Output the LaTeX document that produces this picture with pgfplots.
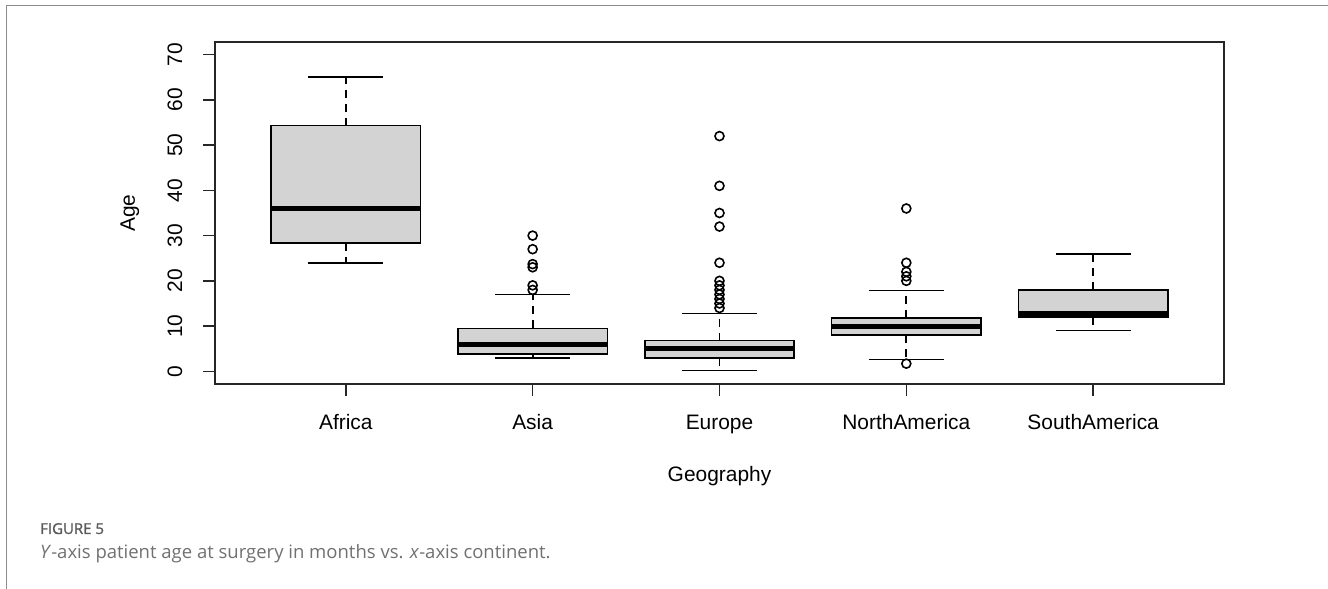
\documentclass[border=0pt]{standalone}
\usepackage{pgfplots}
\pgfplotsset{compat=1.18}
\usepgfplotslibrary{statistics}
\usepackage{fontspec}
\setmainfont{Liberation Sans}
\newfontfamily\capfont{Open Sans}
\newfontfamily\capfontb[FakeBold=1.3]{Open Sans}
\definecolor{boxgray}{HTML}{D3D3D3}
\definecolor{framegray}{HTML}{8C8C8C}
\definecolor{figgray}{HTML}{5A5A5A}
\definecolor{capgray}{HTML}{707070}
\begin{document}
\begin{tikzpicture}
\useasboundingbox (0,0) rectangle (1328bp,589bp);
\draw[framegray, line width=1.5bp] (6.5bp,0) -- (6.5bp,583.7bp) -- (1328bp,583.7bp);
\node[anchor=base west, inner sep=0pt, text=figgray] at (40bp,55bp) {\capfontb\fontsize{15bp}{18bp}\selectfont FIGURE 5};
\node[anchor=base west, inner sep=0pt, text=capgray] at (40bp,31bp) {\capfont\fontsize{18.5bp}{21bp}\selectfont \textit{Y}-axis patient age at surgery in months vs. \textit{x}-axis continent.};
\begin{axis}[
  at={(215bp,205bp)}, anchor=south west,
  width=1009bp, height=342bp, scale only axis,
  xmin=0.3, xmax=5.7, ymin=-2.8, ymax=72.8,
  xtick={1,2,3,4,5},
  xticklabels={Africa,Asia,Europe,NorthAmerica,SouthAmerica},
  ytick={0,10,20,30,40,50,60,70},
  tick align=outside, major tick length=12bp,
  xtick pos=bottom, ytick pos=left,
  axis line style={line width=1.6bp, black!85},
  every tick/.style={black!85, line width=1.6bp},
  /pgf/number format/assume math mode=true,
  tick label style={font=\fontsize{21}{21}\selectfont, inner sep=0pt},
  yticklabel style={rotate=90, anchor=base},
  xticklabel style={anchor=base},
  yticklabel shift=21bp,
  xticklabel shift=33bp,
  xlabel={Geography}, ylabel={Age},
  label style={font=\fontsize{21}{21}\selectfont, inner sep=0pt},
  xlabel style={at={(axis description cs:0.5,-0.2865)}, anchor=base},
  ylabel style={at={(axis description cs:-0.0793,0.5)}, anchor=base, rotate=0},
  boxplot/draw direction=y,
  boxplot/box extend=0.8,
  boxplot/whisker extend=0.4,
  boxplot/every median/.style={line width=5bp},
  boxplot/draw/lower whisker/.code={%
    \draw[dash pattern=on 8bp off 6bp, line width=1.8bp]
      (boxplot cs:\pgfplotsboxplotvalue{lower quartile}) --
      (boxplot cs:\pgfplotsboxplotvalue{lower whisker});
    \draw[line width=1.6bp]
      (boxplot whisker cs:\pgfplotsboxplotvalue{lower whisker},0) --
      (boxplot whisker cs:\pgfplotsboxplotvalue{lower whisker},1);
  },
  boxplot/draw/upper whisker/.code={%
    \draw[dash pattern=on 8bp off 6bp, line width=1.8bp]
      (boxplot cs:\pgfplotsboxplotvalue{upper quartile}) --
      (boxplot cs:\pgfplotsboxplotvalue{upper whisker});
    \draw[line width=1.6bp]
      (boxplot whisker cs:\pgfplotsboxplotvalue{upper whisker},0) --
      (boxplot whisker cs:\pgfplotsboxplotvalue{upper whisker},1);
  },
]
\pgfplotsset{boxst/.style={draw=black, fill=boxgray, line width=1.6bp, solid}}
\addplot[boxst, boxplot prepared={draw position=1, lower whisker=24, lower quartile=28.4, median=36, upper quartile=54.3, upper whisker=65}] coordinates {};
\addplot[boxst, boxplot prepared={draw position=2, lower whisker=3, lower quartile=3.8, median=6, upper quartile=9.5, upper whisker=17}] coordinates {};
\addplot[boxst, boxplot prepared={draw position=3, lower whisker=0.2, lower quartile=3, median=5.1, upper quartile=6.8, upper whisker=12.8}] coordinates {};
\addplot[boxst, boxplot prepared={draw position=4, lower whisker=2.6, lower quartile=8, median=10, upper quartile=11.8, upper whisker=17.9}] coordinates {};
\addplot[boxst, boxplot prepared={draw position=5, lower whisker=9, lower quartile=12, median=12.8, upper quartile=18, upper whisker=26}] coordinates {};
\addplot[only marks, mark=o, mark size=4.5bp, mark options={line width=1.6bp, black}] coordinates {
 (2,30) (2,27) (2,23.7) (2,23) (2,19) (2,18)
 (3,52) (3,41) (3,35) (3,32) (3,24) (3,20) (3,19) (3,18) (3,17) (3,16) (3,15) (3,14)
 (4,36) (4,24) (4,22) (4,21) (4,20) (4,1.7)
};
\end{axis}
\end{tikzpicture}
\end{document}
